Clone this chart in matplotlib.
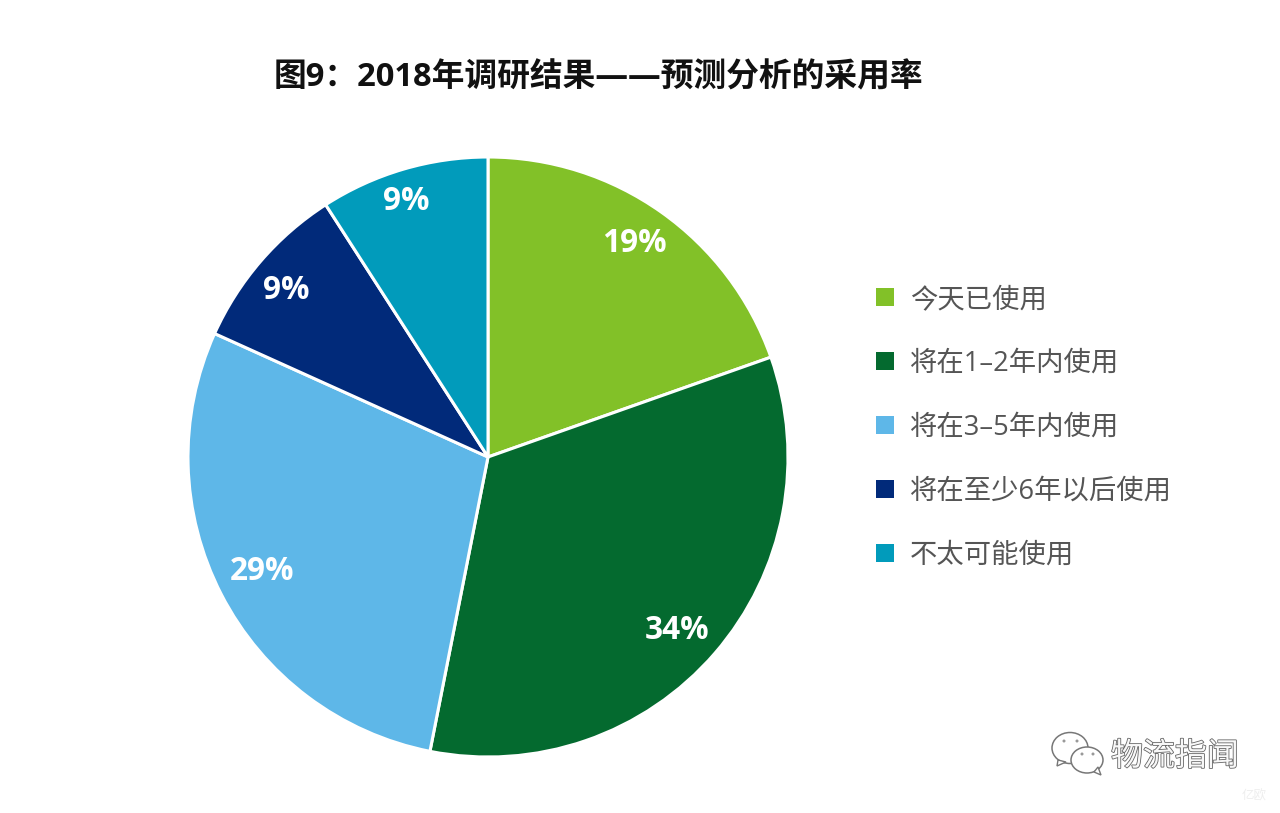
import matplotlib
matplotlib.use("Agg")
import matplotlib.pyplot as plt
import matplotlib.patheffects as pe
from matplotlib.patches import Ellipse, Polygon, Rectangle

plt.rcParams['font.family'] = ['Open Sans', 'Noto Sans CJK SC', 'DejaVu Sans']

labels = ["今天已使用", "将在1–2年内使用", "将在3–5年内使用", "将在至少6年以后使用", "不太可能使用"]
# slice sizes as drawn in the picture, the printed labels are rounded
values = [19.6, 33.5, 28.65, 9.15, 9.1]
colors = ["#82c128", "#046a2f", "#5eb7e8", "#012a7a", "#019bbb"]
pct_labels = ["19%", "34%", "29%", "9%", "9%"]
# label centres in pixels
pct_pos = [(634, 243), (677, 630), (262, 571), (286, 290), (406, 202)]

W, H = 1280, 813
fig = plt.figure(figsize=(W / 100, H / 100), dpi=100)
bg = fig.add_axes([0, 0, 1, 1])
bg.set_xlim(0, W)
bg.set_ylim(H, 0)
bg.axis("off")

# pie centre 488,457 radius 300
ax = fig.add_axes([(488 - 300) / W, 1 - (457 + 300) / H, 600 / W, 600 / H])
ax.pie(values, colors=colors, startangle=90, counterclock=False, radius=1,
       wedgeprops=dict(edgecolor="white", linewidth=2.2))
ax.set_xlim(-1, 1)
ax.set_ylim(-1, 1)
ax.set_zorder(1)

fig.text(598 / W, 1 - 78 / H, "图9：2018年调研结果——预测分析的采用率", fontsize=23.6,
         fontweight="bold", color="#111111", ha="center", va="center")

for txt, (x, y) in zip(pct_labels, pct_pos):
    fig.text(x / W, 1 - y / H, txt, fontsize=22.7, fontweight="bold", color="white",
             ha="center", va="center", zorder=5)

for i, (lab, col) in enumerate(zip(labels, colors)):
    y = 297 + i * 64
    bg.add_patch(Rectangle((876, y - 9), 18, 18, color=col, lw=0))
    bg.text(910, y + 3, lab, fontsize=19.7, color="#555555", va="center", ha="left")

# watermark, wechat bubbles and embossed name
for cx, cy, w, h in [(1070, 748, 36, 31), (1087, 760, 32, 26)]:
    bg.add_patch(Ellipse((cx, cy), w, h, fc="white", ec="#777777", lw=1.1))
bg.add_patch(Polygon([(1058, 760), (1057, 766), (1066, 762)], fc="white", ec="#777777", lw=1))
bg.add_patch(Polygon([(1094, 772), (1101, 775), (1098, 767)], fc="white", ec="#777777", lw=1))
for dx, dy in [(1064, 741), (1077, 741), (1082, 754), (1093, 754)]:
    bg.add_patch(Ellipse((dx, dy), 3, 3, fc="#999999", lw=0))
bg.text(1175, 757, "物流指闻", fontsize=23, color="#f8f8f8", ha="center", va="center",
        path_effects=[pe.withStroke(linewidth=1.2, foreground="#666666")])
bg.text(1254, 796, "亿欧", fontsize=9, color="#eeeeee", ha="center", va="center")

fig.savefig("out.png", dpi=100, facecolor="white")
